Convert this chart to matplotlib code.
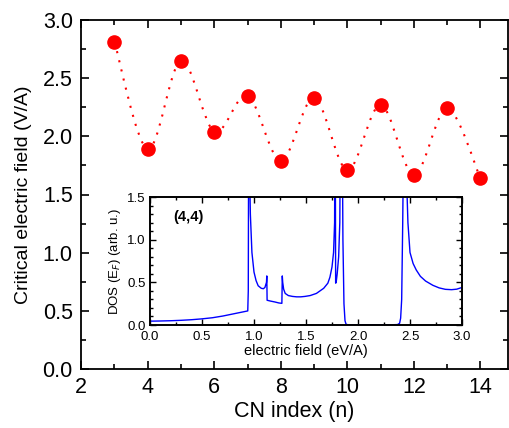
import numpy as np
import matplotlib
matplotlib.use("Agg")
import matplotlib.pyplot as plt
from matplotlib.path import Path
from matplotlib.patches import PathPatch
from matplotlib.ticker import MultipleLocator

plt.rcParams['font.family'] = ['Liberation Sans', 'DejaVu Sans']

# critical field vs CN index
cn_index = [3, 4, 5, 6, 7, 8, 9, 10, 11, 12, 13, 14]
crit_field = [2.81, 1.89, 2.65, 2.04, 2.35, 1.79, 2.33, 1.71, 2.27, 1.67, 2.24, 1.64]

# DOS(E_F) of the (4,4) chain
dos_x = [0.00, 0.10, 0.20, 0.30, 0.40, 0.50, 0.60, 0.70, 0.80, 0.90, 0.940, 0.945,
         0.950, 0.955, 0.965, 0.98, 1.00, 1.02, 1.04, 1.07, 1.09, 1.105, 1.120, 1.123,
         1.126, 1.16, 1.20, 1.24, 1.268, 1.272, 1.276, 1.285, 1.30, 1.33, 1.37, 1.41,
         1.45, 1.49, 1.54, 1.60, 1.67, 1.71, 1.73, 1.75, 1.765, 1.775, 1.780, 1.785,
         1.79, 1.80, 1.814, 1.825, 1.835, 1.845, 1.855, 1.865, 1.875, 1.885, 1.90,
         2.00, 2.10, 2.20, 2.30, 2.38, 2.40, 2.41, 2.42, 2.43, 2.445, 2.46, 2.47,
         2.48, 2.50, 2.53, 2.56, 2.60, 2.65, 2.72, 2.78, 2.84, 2.90, 2.95, 3.00]
dos_y = [0.045, 0.047, 0.05, 0.055, 0.062, 0.072, 0.085, 0.105, 0.13, 0.155, 0.165, 0.40,
         3.0, 2.0, 1.3, 0.85, 0.62, 0.52, 0.46, 0.43, 0.425, 0.44, 0.50, 0.575,
         0.29, 0.28, 0.27, 0.258, 0.254, 0.575, 0.50, 0.42, 0.37, 0.345, 0.335, 0.33,
         0.33, 0.335, 0.345, 0.37, 0.43, 0.49, 0.56, 0.68, 0.85, 1.2, 3.0, 0.49,
         0.50, 0.60, 0.80, 1.2, 3.0, 3.0, 1.0, 0.25, 0.05, 0.01, 0.003,
         0.002, 0.002, 0.002, 0.002, 0.005, 0.02, 0.08, 0.30, 1.2, 3.0, 3.0, 1.6,
         1.2, 0.85, 0.72, 0.645, 0.57, 0.515, 0.465, 0.435, 0.418, 0.414, 0.42, 0.44]

fig = plt.figure(figsize=(5.09, 4.28), dpi=100)
ax = fig.add_axes([81.2 / 509, 1 - 369 / 428, (508 - 81.2) / 509, (369 - 20) / 428])

# smooth dotted curve through the points (Catmull-Rom as cubic Beziers)
px = np.array(cn_index, dtype=float)
py = np.array(crit_field)
verts = [(px[0], py[0])]
codes = [Path.MOVETO]
for i in range(len(px) - 1):
    i0 = max(i - 1, 0)
    i3 = min(i + 2, len(px) - 1)
    c1 = (px[i] + (px[i + 1] - px[i0]) / 6, py[i] + (py[i + 1] - py[i0]) / 6)
    c2 = (px[i + 1] - (px[i3] - px[i]) / 6, py[i + 1] - (py[i3] - py[i]) / 6)
    verts += [c1, c2, (px[i + 1], py[i + 1])]
    codes += [Path.CURVE4] * 3
ax.add_patch(PathPatch(Path(verts, codes), facecolor='none', edgecolor='red',
                       lw=1.5, linestyle=(0, (1, 3.5))))
ax.plot(cn_index, crit_field, 'o', color='red', ms=9.5, mec='red', zorder=3)

ax.set_xlim(2, 2 + (508 - 81.2) / 33.27)
ax.set_ylim(0, 3.0)
ax.xaxis.set_major_locator(MultipleLocator(2))
ax.xaxis.set_minor_locator(MultipleLocator(1))
ax.yaxis.set_major_locator(MultipleLocator(0.5))
ax.yaxis.set_minor_locator(MultipleLocator(0.25))
ax.tick_params(which='both', direction='in', top=True, right=True, labelsize=15.5, width=1.2)
ax.tick_params(axis='y', pad=6)
ax.tick_params(axis='x', pad=6)
ax.tick_params(which='major', length=6)
ax.tick_params(which='minor', length=3.5)
ax.set_xlabel('CN index (n)', fontsize=15.5, labelpad=2)
ax.set_ylabel('Critical electric field (V/A)', fontsize=14, labelpad=8)
for s in ax.spines.values():
    s.set_linewidth(1.3)

# inset
ins = fig.add_axes([150 / 509, 1 - 325 / 428, (462 - 150) / 509, (325 - 197) / 428])
ins.plot(dos_x, dos_y, color='blue', lw=1)
ins.set_xlim(0, 3.0)
ins.set_ylim(0, 1.5)
ins.xaxis.set_major_locator(MultipleLocator(0.5))
ins.xaxis.set_minor_locator(MultipleLocator(0.25))
ins.yaxis.set_major_locator(MultipleLocator(0.5))
ins.yaxis.set_minor_locator(MultipleLocator(0.1))
ins.tick_params(which='both', direction='in', top=True, right=True, labelsize=9.5)
ins.tick_params(axis='x', pad=4)
ins.tick_params(axis='y', pad=3)
ins.tick_params(which='major', length=4, width=1)
ins.tick_params(which='minor', length=2, width=1)
ins.set_xlabel('electric field (eV/A)', fontsize=10.5, labelpad=1)
ins.set_ylabel('DOS (E$_F$) (arb. u.)', fontsize=9.5, labelpad=3)
ins.text(0.37, 1.27, '(4,4)', fontsize=10.5, fontweight='bold', ha='center', va='center')
for s in ins.spines.values():
    s.set_linewidth(1.4)

fig.savefig('out.png', dpi=100)
